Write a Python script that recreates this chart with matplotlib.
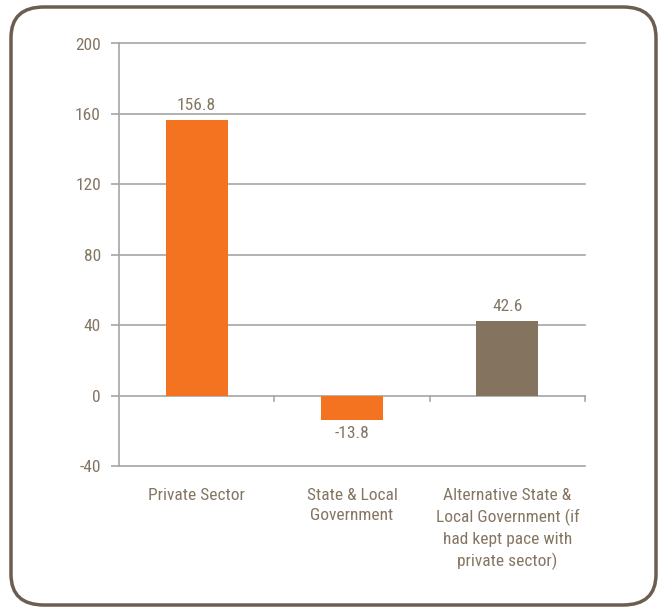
import matplotlib
matplotlib.use("Agg")
import matplotlib.pyplot as plt
from matplotlib.patches import FancyBboxPatch
from matplotlib import font_manager

categories = ["Private Sector", "State & Local\nGovernment",
              "Alternative State &\nLocal Government (if\nhad kept pace with\nprivate sector)"]
values = [156.8, -13.8, 42.6]
bar_colors = ["#F37321", "#F37321", "#84735E"]
yticks = [-40, 0, 40, 80, 120, 160, 200]

names = sorted({f.name for f in font_manager.fontManager.ttflist})
fam = None
for pref in ["Liberation Sans Narrow", "Roboto Condensed", "Open Sans Condensed",
             "DejaVu Sans Condensed"]:
    if pref in names:
        fam = pref
        break
if fam is None:
    cands = [n for n in names if "Narrow" in n or "Condensed" in n]
    fam = cands[0] if cands else "Liberation Sans"
plt.rcParams['font.family'] = [fam, 'DejaVu Sans']

txt = "#857563"
grid = "#A6A6A6"
fs = 12.5

fig = plt.figure(figsize=(6.6, 6.12), dpi=100)
fig.patches.append(FancyBboxPatch((11/660, 7/612), 645/660, 598/612,
                                  boxstyle="round,pad=0,rounding_size=0.05",
                                  transform=fig.transFigure, fill=False,
                                  edgecolor="#6B5D4F", linewidth=2.5))

ax = fig.add_axes([119/660, 1-466/612, 466/660, (466-43.5)/612])
x = list(range(len(values)))
ax.bar(x, values, width=0.4, color=bar_colors, zorder=3)
ax.set_xlim(-0.5, 2.5)
ax.set_ylim(-40, 200)
ax.set_yticks(yticks)
ax.set_yticklabels([str(v) for v in yticks], color=txt, fontsize=fs)
for v in yticks:
    ax.axhline(v, color=grid, linewidth=1.2, zorder=1, clip_on=False)
ax.tick_params(axis='y', length=6, width=1.2, color=grid, pad=7)
ax.set_xticks([])
for b in [0.5, 1.5, 2.5]:
    ax.plot([b, b], [0, -3], color=grid, linewidth=1.2, clip_on=False, zorder=2)
for s in ['top', 'right', 'bottom']:
    ax.spines[s].set_visible(False)
ax.spines['left'].set_color(grid)
ax.spines['left'].set_linewidth(1.2)

for xi, v in zip(x, values):
    if v >= 0:
        ax.text(xi, v + 3.5, f"{v}", ha='center', va='bottom', color=txt, fontsize=fs)
    else:
        ax.text(xi, v - 3.5, f"{v}", ha='center', va='top', color=txt, fontsize=fs)

for xi, c in zip(x, categories):
    ax.text(xi, -52.5, c, ha='center', va='top', color=txt, fontsize=fs,
            linespacing=1.45)

fig.savefig("out.png", dpi=100)
